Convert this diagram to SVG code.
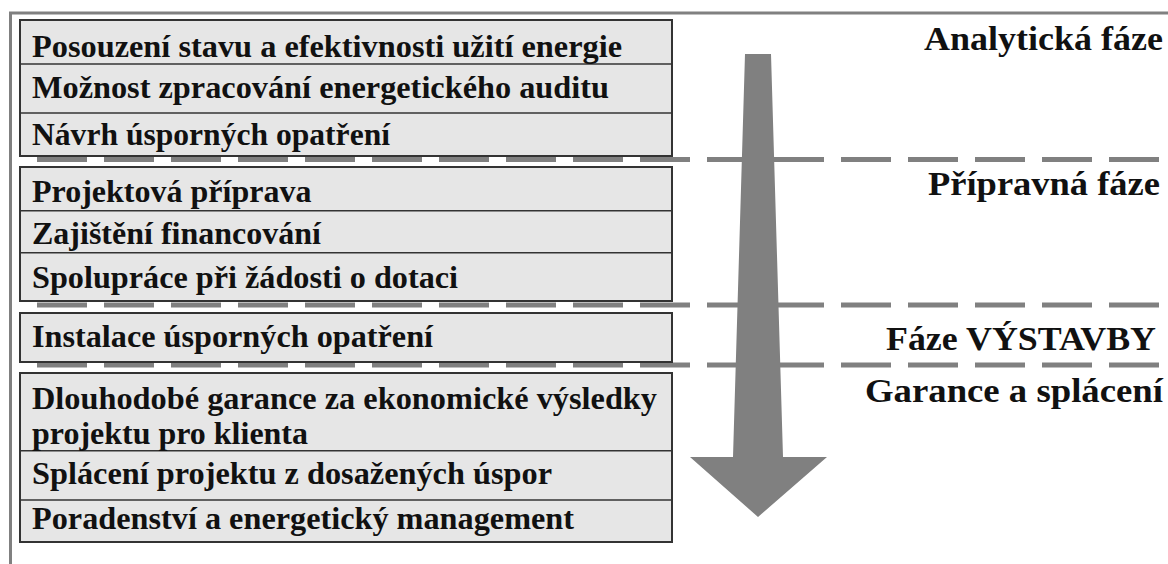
<svg xmlns="http://www.w3.org/2000/svg" width="1168" height="564" viewBox="0 0 1168 564">
  <style>
    .box { fill: #e6e6e6; stroke: #333333; stroke-width: 2; }
    .div { stroke: #333333; stroke-width: 1.5; }
    .item { font-family: "Liberation Serif", "Times New Roman", serif; font-weight: bold; font-size: 32px; fill: #111111; }
    .phase { font-family: "Liberation Serif", "Times New Roman", serif; font-weight: bold; font-size: 33px; fill: #111111; text-anchor: end; }
    .sep { stroke: #808080; stroke-width: 5; stroke-dasharray: 50 17; fill: none; }
    .frame { stroke: #808080; stroke-width: 3; fill: none; }
    .flow { fill: #808080; }
  </style>
  <rect width="1168" height="564" fill="#ffffff"/>

  <!-- outer frame (top and left edges) -->
  <path class="frame" d="M10.5 564 V13 H1168"/>

  <!-- phase separators -->
  <g id="separators">
    <line class="sep" x1="37" y1="159.5" x2="1160" y2="159.5"/>
    <line class="sep" x1="37" y1="305" x2="1160" y2="305"/>
    <line class="sep" x1="37" y1="365" x2="1160" y2="365"/>
  </g>

  <!-- analytical phase -->
  <g id="phase-analytic">
    <rect class="box" x="20" y="20" width="652" height="136"/>
    <line class="div" x1="20" y1="64" x2="672" y2="64"/>
    <line class="div" x1="20" y1="113" x2="672" y2="113"/>
    <text class="item" x="32" y="57" textLength="590" lengthAdjust="spacingAndGlyphs">Posouzení stavu a efektivnosti užití energie</text>
    <text class="item" x="32" y="98" textLength="577" lengthAdjust="spacingAndGlyphs">Možnost zpracování energetického auditu</text>
    <text class="item" x="32" y="145" textLength="358" lengthAdjust="spacingAndGlyphs">Návrh úsporných opatření</text>
  </g>

  <!-- preparation phase -->
  <g id="phase-prep">
    <rect class="box" x="20" y="167" width="652" height="134"/>
    <line class="div" x1="20" y1="210.7" x2="672" y2="210.7"/>
    <line class="div" x1="20" y1="252.7" x2="672" y2="252.7"/>
    <text class="item" x="32" y="201.5">Projektová příprava</text>
    <text class="item" x="32" y="244">Zajištění financování</text>
    <text class="item" x="32" y="288" textLength="426" lengthAdjust="spacingAndGlyphs">Spolupráce při žádosti o dotaci</text>
  </g>

  <!-- construction phase -->
  <g id="phase-build">
    <rect class="box" x="20" y="313" width="652" height="49"/>
    <text class="item" x="32" y="346.5" textLength="401" lengthAdjust="spacingAndGlyphs">Instalace úsporných opatření</text>
  </g>

  <!-- guarantee and repayment phase -->
  <g id="phase-guarantee">
    <rect class="box" x="20" y="373" width="652" height="169"/>
    <line class="div" x1="20" y1="450.7" x2="672" y2="450.7"/>
    <line class="div" x1="20" y1="500" x2="672" y2="500"/>
    <text class="item" x="32" y="408.5" textLength="625" lengthAdjust="spacingAndGlyphs">Dlouhodobé garance za ekonomické výsledky</text>
    <text class="item" x="32" y="444" textLength="276" lengthAdjust="spacingAndGlyphs">projektu pro klienta</text>
    <text class="item" x="32" y="483.5" textLength="520" lengthAdjust="spacingAndGlyphs">Splácení projektu z dosažených úspor</text>
    <text class="item" x="32" y="528.5" textLength="542" lengthAdjust="spacingAndGlyphs">Poradenství a energetický management</text>
  </g>

  <!-- phase labels -->
  <g id="labels">
    <text class="phase" x="1163" y="50" textLength="239" lengthAdjust="spacingAndGlyphs">Analytická fáze</text>
    <text class="phase" x="1160" y="195" textLength="232" lengthAdjust="spacingAndGlyphs">Přípravná fáze</text>
    <text class="phase" x="1156" y="350" textLength="270" lengthAdjust="spacingAndGlyphs">Fáze VÝSTAVBY</text>
    <text class="phase" x="1163" y="401.5" textLength="298" lengthAdjust="spacingAndGlyphs">Garance a splácení</text>
  </g>

  <!-- downward flow arrow -->
  <g id="connectors">
    <polygon class="flow" points="745,54 771,54 783,457 827,457 758,517 690,457 733,457"/>
  </g>
</svg>
